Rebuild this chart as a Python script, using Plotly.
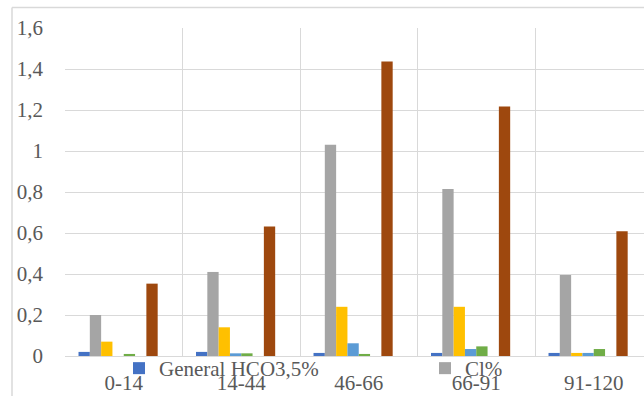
import plotly.graph_objects as go

# Depth intervals (cm)
depths = ["0-14", "14-44", "46-66", "66-91", "91-120"]

# Ion content per depth interval, %
hco3 = [0.02, 0.02, 0.015, 0.015, 0.015]
cl = [0.20, 0.41, 1.03, 0.815, 0.395]
so4 = [0.07, 0.14, 0.24, 0.24, 0.015]
ca = [0.0, 0.013, 0.062, 0.034, 0.015]
mg = [0.01, 0.013, 0.01, 0.047, 0.034]
na = [0.0, 0.0, 0.0, 0.0, 0.0]
total = [0.353, 0.632, 1.437, 1.217, 0.608]
extra = [0.0, 0.0, 0.0, 0.0, 0.0]

series = [
    ("General HCO3,5%", hco3, "#4472C4", "legend"),
    ("Cl%", cl, "#A5A5A5", "legend2"),
    ("SO4%", so4, "#FFC000", None),
    ("Ca%", ca, "#5B9BD5", None),
    ("Mg%", mg, "#70AD47", None),
    ("Na%", na, "#264478", None),
    ("Sum of salts%", total, "#9E480E", None),
    ("K%", extra, "#636363", None),
]

W, H = 644, 396
ML, MR, MT, MB = 65, 0, 28, 40
pw, ph = W - ML - MR, H - MT - MB

fig = go.Figure()
for name, vals, color, leg in series:
    kw = dict(legend=leg, showlegend=True) if leg else dict(showlegend=False)
    fig.add_trace(go.Bar(x=depths, y=vals, name=name, marker_color=color,
                         marker_line_width=0, **kw))

FF = "Liberation Serif, Times New Roman, serif"
txt = "#595959"
grid = "#d9d9d9"


def legend_at(px):
    return dict(orientation="h", x=(px - ML) / pw, xanchor="left",
                y=-12.5 / ph, yanchor="middle", bgcolor="rgba(0,0,0,0)",
                borderwidth=0, font=dict(family=FF, size=21, color=txt))


band = 117.5
fig.update_layout(
    width=W, height=H,
    margin=dict(l=ML, r=MR, t=MT, b=MB, pad=0),
    paper_bgcolor="white", plot_bgcolor="white",
    barmode="group", bargap=0.23, bargroupgap=0,
    separators=", ",
    font=dict(family=FF, size=20, color=txt),
    xaxis=dict(type="category", tickson="boundaries", ticks="",
               showgrid=True, gridcolor=grid, gridwidth=1.3,
               showline=False, range=[-0.5, -0.5 + pw / band],
               ticklabelstandoff=12,
               tickfont=dict(family=FF, size=21, color=txt)),
    yaxis=dict(range=[0, 1.6], dtick=0.2, tick0=0, showgrid=True,
               gridcolor=grid, gridwidth=1.3, zeroline=True,
               zerolinecolor=grid, zerolinewidth=1.3, showline=False,
               ticks="", ticklabelstandoff=21,
               tickfont=dict(family=FF, size=21, color=txt)),
    legend=legend_at(119),
    legend2=legend_at(425),
)

# Outer chart frame (left and top edges)
fx = (12 - ML) / pw
fy = (H - MB - 7.5) / ph
fb = -MB / ph
fig.add_shape(type="line", xref="paper", yref="paper", x0=fx, x1=1.2,
              y0=fy, y1=fy, line=dict(color=grid, width=1.5))
fig.add_shape(type="line", xref="paper", yref="paper", x0=fx, x1=fx,
              y0=fy, y1=fb - 0.1, line=dict(color=grid, width=1.5))

fig.write_html("out.html")
